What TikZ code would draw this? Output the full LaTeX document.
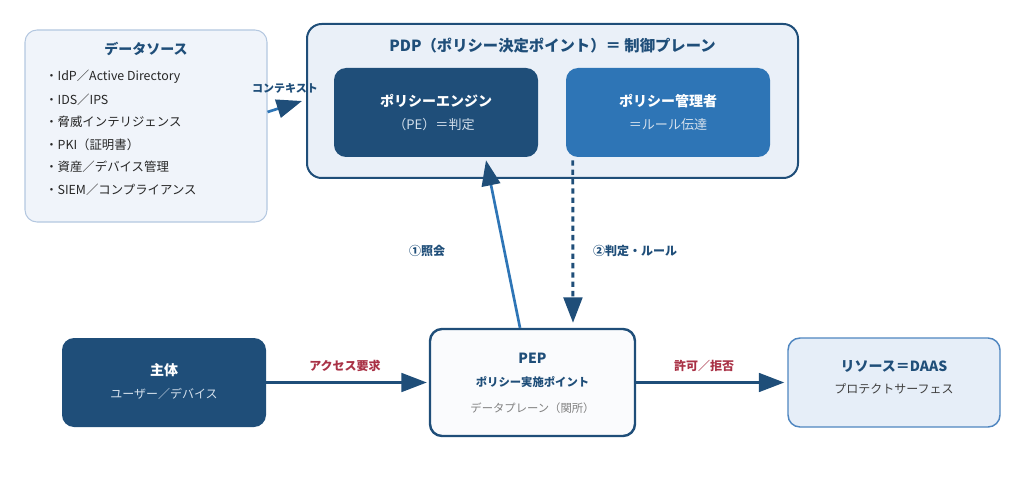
\documentclass[tikz,border=0pt]{standalone}
\usepackage{fontspec}
\setmainfont{Noto Sans CJK JP}
\usetikzlibrary{arrows.meta,calc}
\definecolor{dblue}{HTML}{1F4E79}
\definecolor{mblue}{HTML}{2E75B6}
\definecolor{pdpfill}{HTML}{EAF0F8}
\definecolor{dsfill}{HTML}{F0F4FA}
\definecolor{dsline}{HTML}{B4C8E0}
\definecolor{resfill}{HTML}{E6EEF8}
\definecolor{resline}{HTML}{4F86C0}
\definecolor{lightsub}{HTML}{D4E0EC}
\definecolor{redlab}{HTML}{A93246}
\definecolor{graytxt}{HTML}{808080}
\definecolor{pepfill}{HTML}{FAFBFD}
\begin{document}
\begin{tikzpicture}[x=0.75pt,y=-0.75pt,
  box/.style={rounded corners=9pt, inner sep=0pt},
  darkbox/.style={box, fill=dblue},
  title/.style={font=\bfseries\fontsize{10.5}{12}\selectfont, inner sep=0pt},
  sub/.style={font=\fontsize{9}{11}\selectfont, inner sep=0pt},
  item/.style={font=\fontsize{9.3}{11}\selectfont, inner sep=0pt, anchor=west, text=black!85},
  elabel/.style={font=\bfseries\fontsize{9}{11}\selectfont, inner sep=0pt},
  arr/.style={line width=2pt, -{Triangle[length=19pt,width=14pt]}},
]
\useasboundingbox (0,0) rectangle (1024,481);
% data source
\node[box, fill=dsfill, draw=dsline, line width=0.8pt, minimum width=242*0.75pt, minimum height=192*0.75pt] (ds) at (146,126) {};
\node[title, text=dblue] (dst) at (146,49) {データソース};
\node[item] (i1) at (45,77) {・IdP／Active Directory};
\node[item] (i2) at (45,100) {・IDS／IPS};
\node[item] (i3) at (45,122) {・脅威インテリジェンス};
\node[item] (i4) at (45,145) {・PKI（証明書）};
\node[item] (i5) at (45,167) {・資産／デバイス管理};
\node[item] (i6) at (45,190) {・SIEM／コンプライアンス};
% PDP
\node[box, rounded corners=11pt, fill=pdpfill, draw=dblue, line width=1.5pt, minimum width=491*0.75pt, minimum height=154*0.75pt] (pdp) at (552.5,101) {};
\node[title, font=\bfseries\fontsize{11.5}{13}\selectfont, text=dblue] (pdpt) at (552.5,46) {PDP（ポリシー決定ポイント）＝ 制御プレーン};
\node[darkbox, minimum width=204*0.75pt, minimum height=89*0.75pt] (pe) at (436,112.5) {};
\node[title, text=white] (pet) at (436,101) {ポリシーエンジン};
\node[sub, font=\fontsize{9.8}{11}\selectfont, text=lightsub] (pes) at (434,125) {（PE）＝判定};
\node[box, fill=mblue, minimum width=204*0.75pt, minimum height=89*0.75pt] (pa) at (668,112.5) {};
\node[title, text=white] (pat) at (668,101) {ポリシー管理者};
\node[sub, font=\fontsize{9.8}{11}\selectfont, text=lightsub] (pas) at (668,125) {＝ルール伝達};
% subject
\node[darkbox, minimum width=204*0.75pt, minimum height=89*0.75pt] (subj) at (164,382.5) {};
\node[title, text=white] (subjt) at (164,370) {主体};
\node[sub, text=lightsub] (subjs) at (164,394) {ユーザー／デバイス};
% PEP
\node[box, fill=pepfill, draw=dblue, line width=1.8pt, minimum width=205*0.75pt, minimum height=107*0.75pt] (pep) at (532.5,382.5) {};
\node[title, text=dblue] (pept) at (532.5,358) {PEP};
\node[sub, font=\bfseries\fontsize{8.5}{10}\selectfont, text=dblue] (peps) at (532.5,382) {ポリシー実施ポイント};
\node[sub, font=\fontsize{8.5}{10}\selectfont, text=graytxt] (pepd) at (532.5,408) {データプレーン（関所）};
% resource
\node[box, fill=resfill, draw=resline, line width=1.1pt, minimum width=212*0.75pt, minimum height=89*0.75pt] (res) at (894,382.5) {};
\node[title, text=dblue] (rest) at (894,366) {リソース＝DAAS};
\node[sub, text=black!75] (ress) at (894,389) {プロテクトサーフェス};
% arrows
\draw[arr, draw=mblue, -{Triangle[length=19pt,width=14pt,fill=dblue,color=dblue]}] ($(ds.east)+(0,-14)$) -- ($(pdp.west)+(-4,0)$);
\node[elabel, font=\bfseries\fontsize{8.25}{10}\selectfont, text=dblue] (ctx) at (285,88) {コンテキスト};
\draw[arr, draw=mblue, -{Triangle[length=19pt,width=14pt,fill=dblue,color=dblue]}] ($(pep.north)+(-12.5,0)$) -- ($(pe.south)+(50,3)$);
\node[elabel, text=dblue] (q1) at (427,251) {①照会};
\draw[arr, draw=dblue, line width=2.2pt, dash pattern=on 4pt off 3pt] ($(pa.south west)+(7,3)$) -- ($(pep.north)+(40.5,-5)$);
\node[elabel, text=dblue] (q2) at (635,251) {②判定・ルール};
\draw[arr, draw=dblue] (subj.east) -- ($(pep.west)+(-2,0)$);
\node[elabel, text=redlab] (acc) at (345,366) {アクセス要求};
\draw[arr, draw=dblue] (pep.east) -- ($(res.west)+(-3,0)$);
\node[elabel, text=redlab] (perm) at (704,366) {許可／拒否};
\end{tikzpicture}
\end{document}
